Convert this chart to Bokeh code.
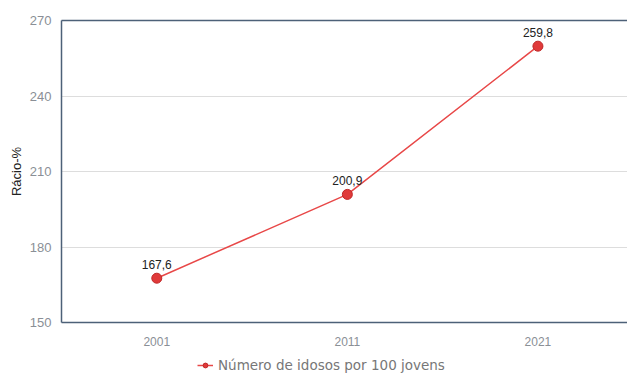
from bokeh.plotting import figure
from bokeh.layouts import column
from bokeh.models import Range1d, FixedTicker, LinearAxis, Legend, LegendItem, ColumnDataSource, LabelSet
from bokeh.core.properties import value
from bokeh.embed import file_html
from bokeh.resources import INLINE

years = [2001, 2011, 2021]
values = [167.6, 200.9, 259.8]
labels = ["167,6", "200,9", "259,8"]
y_ticks = [150, 180, 210, 240, 270]
series_name = "Número de idosos por 100 jovens"

src = ColumnDataSource(dict(x=years, y=values, t=labels))

line_color = "#e84848"
pt_fill = "#e03a3a"
pt_line = "#c02828"

p = figure(width=627, height=350, output_backend="svg", toolbar_location=None,
           x_range=Range1d(1996, 2025.7), y_range=Range1d(150, 270),
           min_border_left=61, min_border_right=0, min_border_top=20, min_border_bottom=28)
p.outline_line_color = None
p.background_fill_color = "white"
p.border_fill_color = "white"

axis_color = "#4d6178"
tick_color = "#8a8f96"

p.xaxis.ticker = FixedTicker(ticks=years)
p.xaxis.axis_line_color = axis_color
p.xaxis.axis_line_width = 1.5
p.xaxis.major_tick_line_color = None
p.xaxis.minor_tick_line_color = None
p.xaxis.major_label_text_color = tick_color
p.xaxis.major_label_text_font = "Liberation Sans"
p.xaxis.major_label_text_font_size = "12px"
p.xaxis.major_label_standoff = 8

p.yaxis.ticker = FixedTicker(ticks=y_ticks)
p.yaxis.axis_line_color = axis_color
p.yaxis.axis_line_width = 1.5
p.yaxis.major_tick_line_color = None
p.yaxis.minor_tick_line_color = None
p.yaxis.major_label_text_color = tick_color
p.yaxis.major_label_text_font = "Liberation Sans"
p.yaxis.major_label_text_font_size = "13px"
p.yaxis.major_label_standoff = 4
p.yaxis.axis_label = "Rácio-%"
p.yaxis.axis_label_text_font = "Liberation Sans"
p.yaxis.axis_label_text_font_style = "normal"
p.yaxis.axis_label_text_font_size = "13px"
p.yaxis.axis_label_text_color = "#222222"
p.yaxis.axis_label_standoff = 3

top = LinearAxis(ticker=FixedTicker(ticks=[]), axis_line_color=axis_color, axis_line_width=1.5,
                 major_tick_line_color=None, minor_tick_line_color=None,
                 major_label_text_font_size="0px")
p.add_layout(top, "above")

p.xgrid.grid_line_color = None
p.ygrid.grid_line_color = "#dddddd"
p.ygrid.grid_line_width = 1

p.line("x", "y", source=src, line_color=line_color, line_width=1.5)
p.scatter("x", "y", source=src, size=10, fill_color=pt_fill, line_color=pt_line, line_width=1)

lbl = LabelSet(x="x", y="y", text="t", source=src, y_offset=9, text_align="center",
               text_font=value("Liberation Sans"), text_font_size=value("12px"), text_color="#222222")
p.add_layout(lbl)

# legend strip below the chart
lf = figure(width=627, height=26, output_backend="svg", toolbar_location=None,
            x_range=Range1d(0, 1), y_range=Range1d(0, 1),
            min_border_left=0, min_border_right=0, min_border_top=0, min_border_bottom=0)
lf.axis.visible = False
lf.grid.visible = False
lf.outline_line_color = None
lf.border_fill_color = "white"
offscreen = ColumnDataSource(dict(x=[-5, -4], y=[-5, -4]))
l1 = lf.line("x", "y", source=offscreen, line_color=line_color, line_width=1.5)
l2 = lf.scatter("x", "y", source=offscreen, size=8, fill_color=pt_fill, line_color=pt_line, line_width=1)
legend = Legend(items=[LegendItem(label=series_name, renderers=[l1, l2])],
                orientation="horizontal", location=(136, 3),
                label_text_font="DejaVu Sans", label_text_font_size="13.5px",
                label_text_color="#777777", border_line_color=None,
                background_fill_alpha=0,
                glyph_width=16, glyph_height=12, label_standoff=5,
                padding=3, margin=0, spacing=0)
lf.add_layout(legend)

layout = column(p, lf, spacing=0)
open("out.html", "w").write(file_html(layout, INLINE))
